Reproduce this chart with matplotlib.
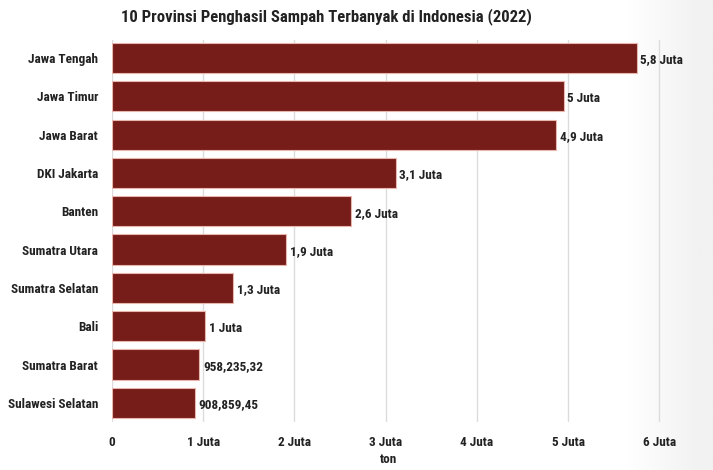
import numpy as np
import matplotlib
matplotlib.use("Agg")
import matplotlib.pyplot as plt
from matplotlib import font_manager

# data (ton, in juta)
provinsi = ["Jawa Tengah", "Jawa Timur", "Jawa Barat", "DKI Jakarta", "Banten",
            "Sumatra Utara", "Sumatra Selatan", "Bali", "Sumatra Barat", "Sulawesi Selatan"]
sampah = [5.75, 4.95, 4.87, 3.11, 2.62, 1.91, 1.33, 1.02, 0.95823532, 0.90885945]
label_nilai = ["5,8 Juta", "5 Juta", "4,9 Juta", "3,1 Juta", "2,6 Juta",
               "1,9 Juta", "1,3 Juta", "1 Juta", "958,235,32", "908,859,45"]
tick_pos = [0, 1, 2, 3, 4, 5, 6]
tick_lbl = ["0", "1 Juta", "2 Juta", "3 Juta", "4 Juta", "5 Juta", "6 Juta"]

# prefer a narrow bold face, like the original
names = {f.name for f in font_manager.fontManager.ttflist}
fam, fs, tfs = "Roboto", 8.5, 10.5
for cand in ["Liberation Sans Narrow", "DejaVu Sans Condensed", "Roboto Condensed", "Open Sans Condensed"]:
    if cand in names:
        fam, fs, tfs = cand, 9.5, 12
        break
plt.rcParams['font.family'] = [fam, 'DejaVu Sans']
txt = "#222222"

fig = plt.figure(figsize=[7.13, 4.70], dpi=100)
fig.patch.set_facecolor("white")

# soft grey fade at right edge
bg = fig.add_axes([0, 0, 1, 1], zorder=-10)
grad = np.clip((np.linspace(0, 1, 400) - 0.88) / 0.10, 0, 1).reshape(1, -1)
bg.imshow(grad, cmap=matplotlib.colors.LinearSegmentedColormap.from_list("g", ["#ffffff", "#f2f2f2"]),
          aspect="auto", extent=[0, 1, 0, 1])
bg.axis("off")

ax = fig.add_axes([112/713, 1-422/470, (664-112)/713, (422-40)/470])
ax.set_facecolor("none")
y = np.arange(len(provinsi))
ax.barh(y, sampah, height=0.79, color="#761c19", edgecolor="#e9b6ad", linewidth=0.8, zorder=3)
for i in y:
    ax.text(sampah[i] + 0.04, i + 0.05, label_nilai[i], va="center", ha="left",
            fontsize=fs, fontweight="bold", color=txt)

ax.set_xlim(0, 6.05)
ax.set_ylim(9.5, -0.47)
ax.set_yticks(y)
ax.set_yticklabels(provinsi, fontsize=fs, fontweight="bold", color=txt)
ax.set_xticks(tick_pos)
ax.set_xticklabels(tick_lbl, fontsize=fs, fontweight="bold", color=txt)
ax.tick_params(axis="both", length=0)
ax.tick_params(axis="x", pad=10)
ax.tick_params(axis="y", pad=10)
ax.grid(axis="x", color="#dcdcdc", linewidth=1, zorder=0)
for s in ax.spines.values():
    s.set_visible(False)
ax.set_xlabel("ton", fontsize=fs, fontweight="bold", color=txt, labelpad=3)

fig.text(326/713, 1-17/470, "10 Provinsi Penghasil Sampah Terbanyak di Indonesia (2022)",
         ha="center", va="center", fontsize=tfs, fontweight="bold", color=txt)

plt.savefig("out.png", dpi=100)
plt.close(fig)
